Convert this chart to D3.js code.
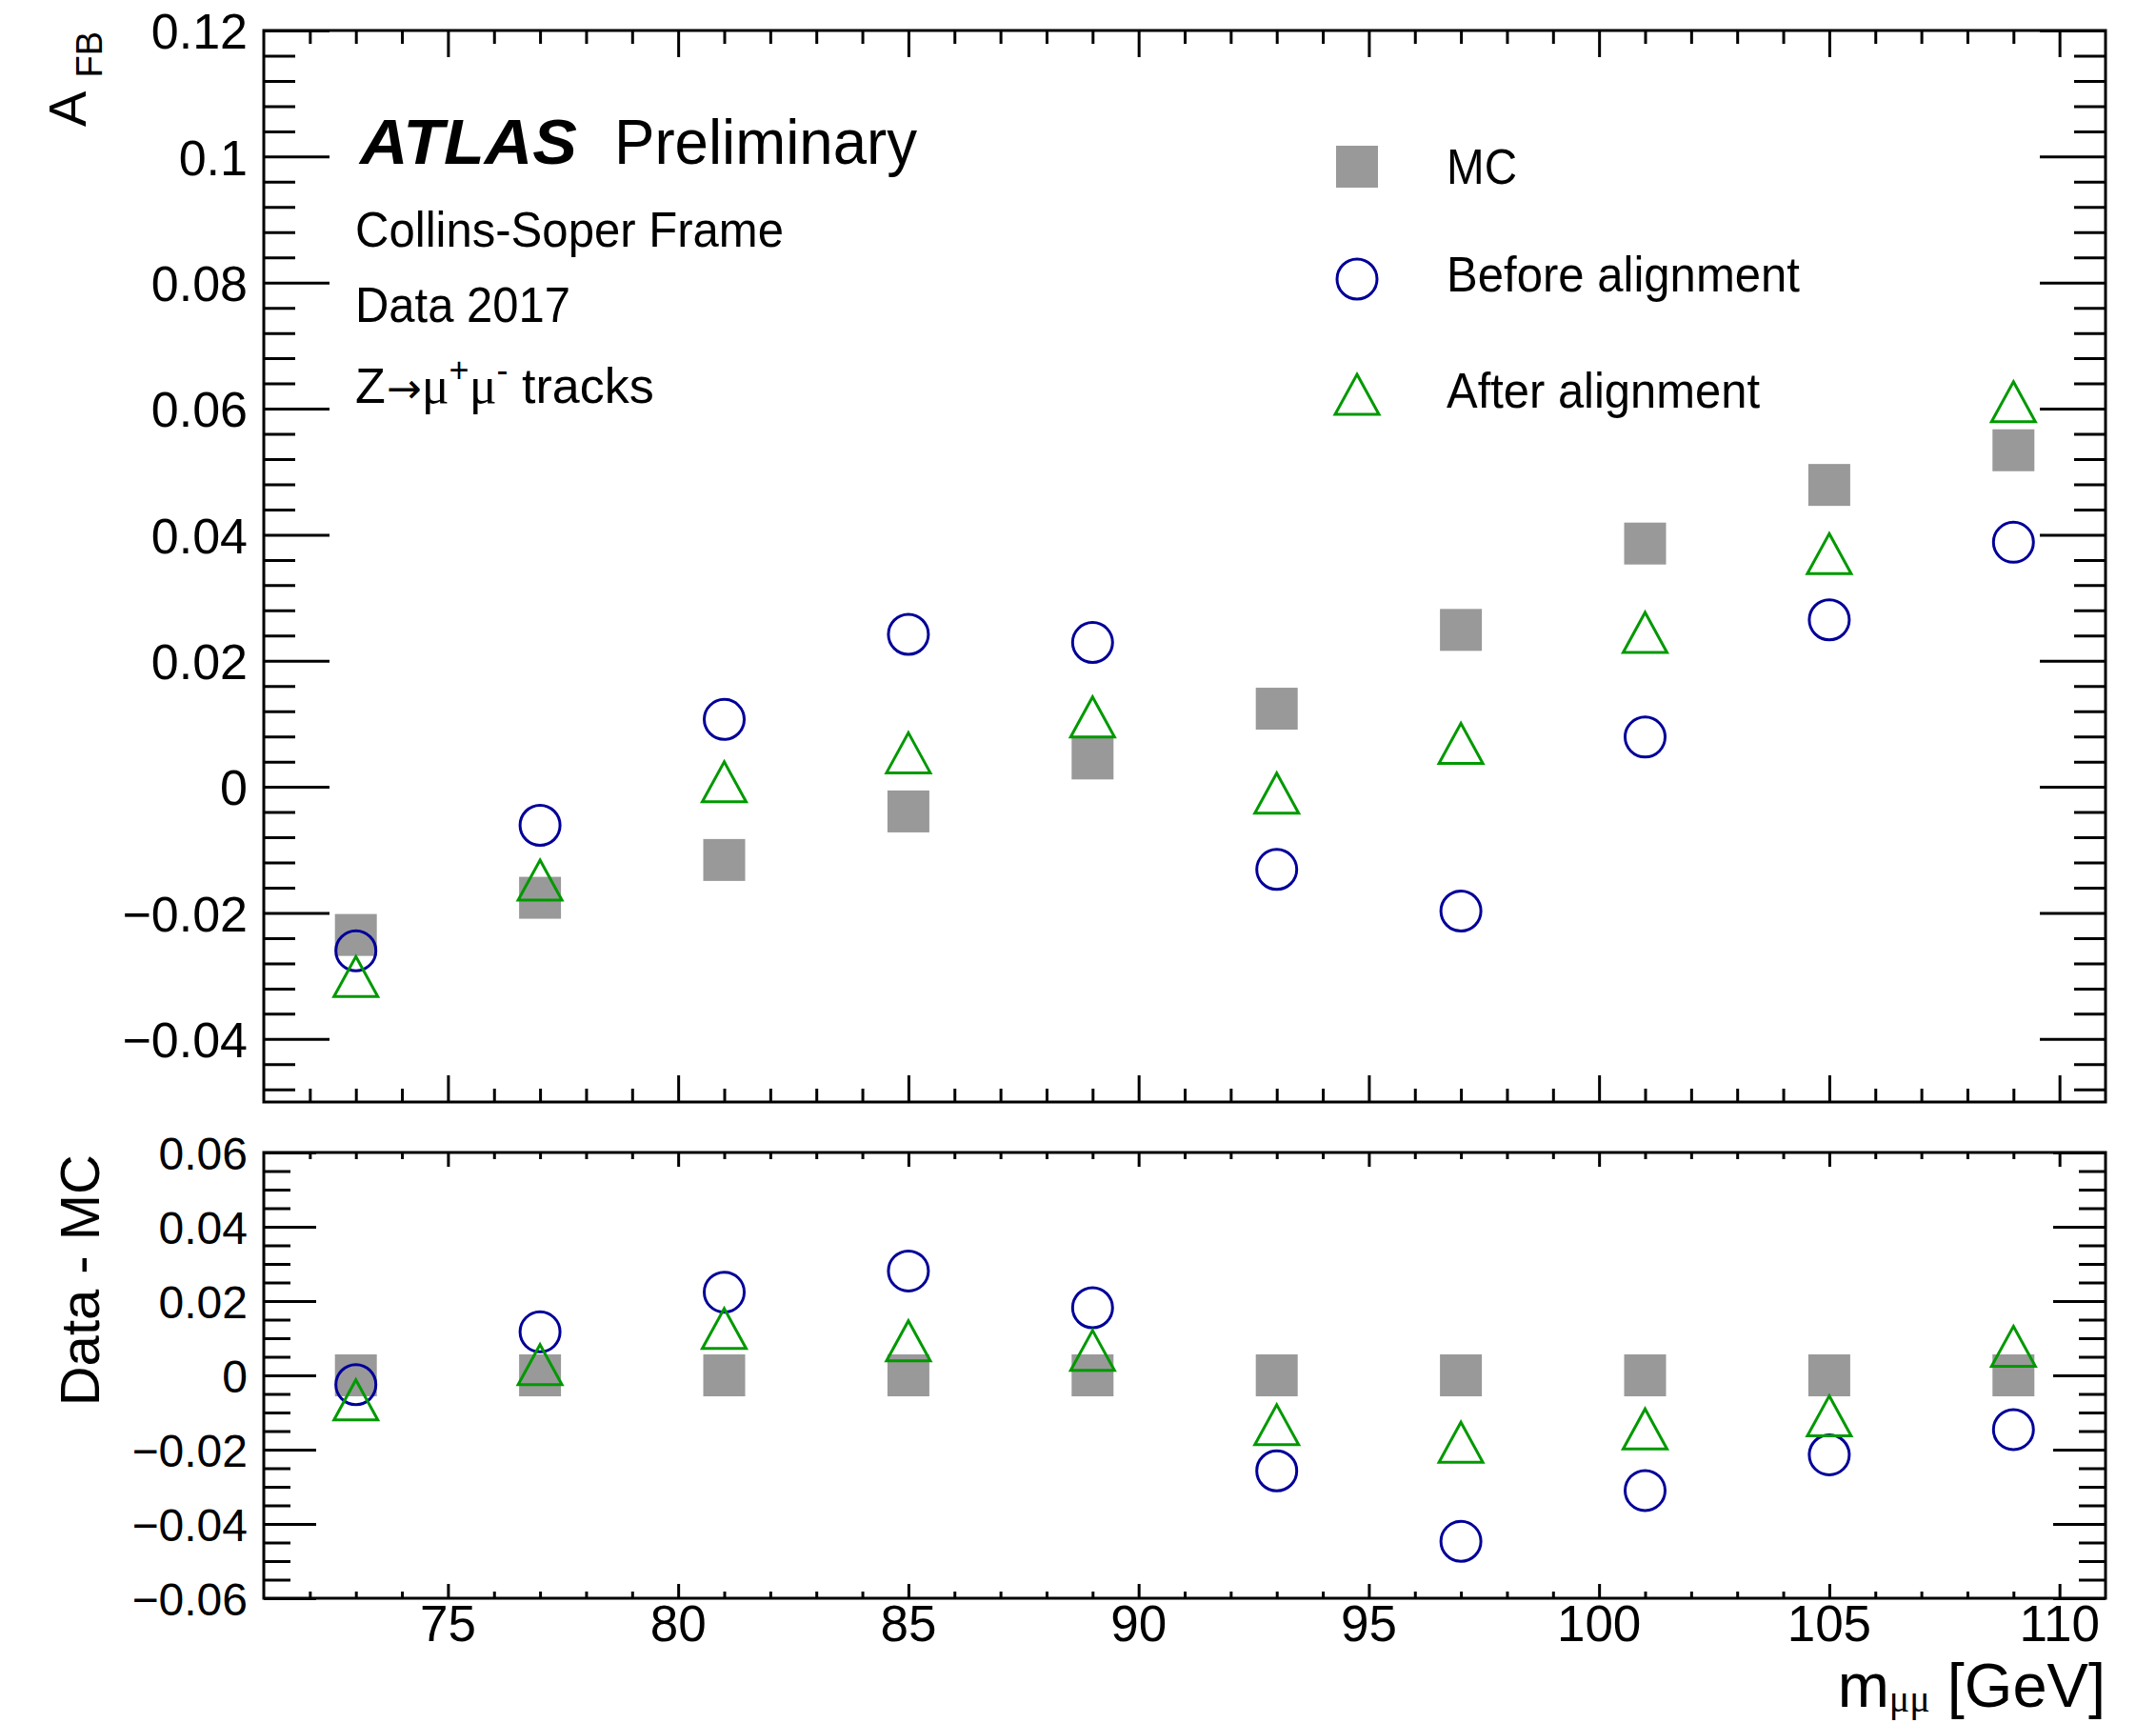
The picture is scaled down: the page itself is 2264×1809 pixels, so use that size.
<!DOCTYPE html>
<html>
<head>
<meta charset="utf-8">
<script src="https://cdn.jsdelivr.net/npm/d3@7"></script>
<style>
  html, body { margin: 0; padding: 0; background: #fff; }
  svg { display: block; }
  text { font-family: "Liberation Sans", Arial, Helvetica, sans-serif; fill: #000; }
</style>
</head>
<body>
<svg id="chart" width="2264" height="1809"></svg>
<script>
// ---------------- DATA ----------------
const massBins   = [73, 77, 81, 85, 89, 93, 97, 101, 105, 109];
const afbMC      = [-0.0235, -0.0176, -0.0116, -0.0039, 0.0045, 0.0124, 0.0249, 0.0386, 0.0479, 0.0534];
const afbBefore  = [-0.0260, -0.0061, 0.0107, 0.0242, 0.0229, -0.0131, -0.0197, 0.0079, 0.0265, 0.0388];
const afbAfter   = [-0.0301, -0.0148, 0.0008, 0.0054, 0.0111, -0.0010, 0.0069, 0.0245, 0.0370, 0.0611];
const diffMC     = [0, 0, 0, 0, 0, 0, 0, 0, 0, 0];
const diffBefore = [-0.0025, 0.0117, 0.0224, 0.0281, 0.0182, -0.0257, -0.0447, -0.0310, -0.0214, -0.0146];
const diffAfter  = [-0.0066, 0.0029, 0.0126, 0.0093, 0.0067, -0.0133, -0.0180, -0.0144, -0.0109, 0.0078];

const xMajorTicks = [75, 80, 85, 90, 95, 100, 105, 110];
const xMinorTicks = [72, 73, 74, 76, 77, 78, 79, 81, 82, 83, 84, 86, 87, 88, 89, 91, 92, 93, 94,
                     96, 97, 98, 99, 101, 102, 103, 104, 106, 107, 108, 109];
const upperYTicks = [-0.04, -0.02, 0, 0.02, 0.04, 0.06, 0.08, 0.1, 0.12];
const upperYMinor = [-0.048, -0.044, -0.036, -0.032, -0.028, -0.024, -0.016, -0.012, -0.008, -0.004,
                     0.004, 0.008, 0.012, 0.016, 0.024, 0.028, 0.032, 0.036, 0.044, 0.048, 0.052, 0.056,
                     0.064, 0.068, 0.072, 0.076, 0.084, 0.088, 0.092, 0.096, 0.104, 0.108, 0.112, 0.116];
const lowerYTicks = [-0.06, -0.04, -0.02, 0, 0.02, 0.04, 0.06];
const lowerYMinor = [-0.055, -0.05, -0.045, -0.035, -0.03, -0.025, -0.015, -0.01, -0.005,
                     0.005, 0.01, 0.015, 0.025, 0.03, 0.035, 0.045, 0.05, 0.055];

const seriesNames = ["MC", "Before alignment", "After alignment"];
const colMC = "#999999", colBefore = "#000099", colAfter = "#009900";

// ---------------- LAYOUT ----------------
const L = 277, R = 2211;
const upTop = 32, upBot = 1157;
const loTop = 1210, loBot = 1678;

const x   = d3.scaleLinear().domain([71, 111]).range([L, R]);
const yUp = d3.scaleLinear().domain([-0.05, 0.12]).range([upBot, upTop]);
const yLo = d3.scaleLinear().domain([-0.06, 0.06]).range([loBot, loTop]);

const svg = d3.select("#chart");
const fmt = d3.format("~g");

function styleAxis(g) {
  g.select(".domain").remove();
  g.selectAll(".tick line").attr("stroke", "#000").attr("stroke-width", 3);
  g.selectAll("text").attr("font-family", "Liberation Sans, Arial, sans-serif").attr("fill", "#000");
}
function noLabels(g) {
  styleAxis(g);
  g.selectAll(".tick text").remove();
}

function panel(yScale, top, bot, yMaj, yMin, xMajLen, xMinLen, yMajLen, yMinLen, yFont) {
  const g = svg.append("g");
  // x ticks bottom & top
  g.append("g").attr("transform", `translate(0,${bot})`)
    .call(d3.axisBottom(x).tickValues(xMajorTicks).tickSize(-xMajLen)).call(noLabels);
  g.append("g").attr("transform", `translate(0,${bot})`)
    .call(d3.axisBottom(x).tickValues(xMinorTicks).tickSize(-xMinLen)).call(noLabels);
  g.append("g").attr("transform", `translate(0,${top})`)
    .call(d3.axisTop(x).tickValues(xMajorTicks).tickSize(-xMajLen)).call(noLabels);
  g.append("g").attr("transform", `translate(0,${top})`)
    .call(d3.axisTop(x).tickValues(xMinorTicks).tickSize(-xMinLen)).call(noLabels);
  // y ticks left & right
  const yl = g.append("g").attr("transform", `translate(${L},0)`)
    .call(d3.axisLeft(yScale).tickValues(yMaj).tickSize(-yMajLen).tickPadding(17).tickFormat(fmt))
    .call(styleAxis);
  yl.selectAll("text").attr("font-size", yFont).attr("dy", "0.36em");
  g.append("g").attr("transform", `translate(${L},0)`)
    .call(d3.axisLeft(yScale).tickValues(yMin).tickSize(-yMinLen)).call(noLabels);
  g.append("g").attr("transform", `translate(${R},0)`)
    .call(d3.axisRight(yScale).tickValues(yMaj).tickSize(-yMajLen)).call(noLabels);
  g.append("g").attr("transform", `translate(${R},0)`)
    .call(d3.axisRight(yScale).tickValues(yMin).tickSize(-yMinLen)).call(noLabels);
  // frame
  g.append("rect").attr("x", L).attr("y", top).attr("width", R - L).attr("height", bot - top)
    .attr("fill", "none").attr("stroke", "#000").attr("stroke-width", 3);
  return g;
}

panel(yUp, upTop, upBot, upperYTicks, upperYMinor, 28, 14, 69, 33, 52);
panel(yLo, loTop, loBot, lowerYTicks, lowerYMinor, 15, 7, 55, 28, 48);

// x tick labels under lower panel
svg.append("g").selectAll("text").data(xMajorTicks).join("text")
  .attr("x", d => x(d)).attr("y", 1723)
  .attr("text-anchor", "middle").attr("font-size", 53)
  .text(d => d);

// ---------------- MARKERS ----------------
const triPath = "M0,-21 L23,21 L-23,21 Z";
function drawMarkers(g, yScale, mc, before, after) {
  g.selectAll("rect.mc").data(massBins).join("rect").attr("class", "mc")
    .attr("x", (d) => x(d) - 22).attr("y", (d, i) => yScale(mc[i]) - 22)
    .attr("width", 44).attr("height", 44).attr("fill", colMC);
  g.selectAll("circle.before").data(massBins).join("circle").attr("class", "before")
    .attr("cx", d => x(d)).attr("cy", (d, i) => yScale(before[i])).attr("r", 21)
    .attr("fill", "none").attr("stroke", colBefore).attr("stroke-width", 3);
  g.selectAll("path.after").data(massBins).join("path").attr("class", "after")
    .attr("transform", (d, i) => `translate(${x(d)},${yScale(after[i])})`)
    .attr("d", triPath).attr("fill", "none").attr("stroke", colAfter).attr("stroke-width", 3);
}
drawMarkers(svg.append("g"), yUp, afbMC, afbBefore, afbAfter);
drawMarkers(svg.append("g"), yLo, diffMC, diffBefore, diffAfter);

// ---------------- LEGEND ----------------
const legY = [175, 293, 414];
const legTextY = [193, 306, 428];
const legX = 1425, legTextX = 1519;
const legWidths = [74, 371, 329];
const leg = svg.append("g");
leg.append("rect").attr("x", legX - 22).attr("y", legY[0] - 22).attr("width", 44).attr("height", 44).attr("fill", colMC);
leg.append("circle").attr("cx", legX).attr("cy", legY[1]).attr("r", 21)
  .attr("fill", "none").attr("stroke", colBefore).attr("stroke-width", 3);
leg.append("path").attr("transform", `translate(${legX},${legY[2]})`).attr("d", triPath)
  .attr("fill", "none").attr("stroke", colAfter).attr("stroke-width", 3);
leg.selectAll("text").data(seriesNames).join("text")
  .attr("x", legTextX).attr("y", (d, i) => legTextY[i])
  .attr("font-size", 52)
  .attr("textLength", (d, i) => legWidths[i]).attr("lengthAdjust", "spacingAndGlyphs")
  .text(d => d);

// ---------------- LABELS ----------------
svg.append("text").attr("x", 378).attr("y", 172).attr("font-size", 67)
  .attr("font-weight", "bold").attr("font-style", "italic")
  .attr("textLength", 228).attr("lengthAdjust", "spacingAndGlyphs").text("ATLAS");
svg.append("text").attr("x", 645).attr("y", 172).attr("font-size", 67)
  .attr("textLength", 318).attr("lengthAdjust", "spacingAndGlyphs").text("Preliminary");
svg.append("text").attr("x", 373).attr("y", 259).attr("font-size", 52)
  .attr("textLength", 450).attr("lengthAdjust", "spacingAndGlyphs").text("Collins-Soper Frame");
svg.append("text").attr("x", 373).attr("y", 338).attr("font-size", 52)
  .attr("textLength", 226).attr("lengthAdjust", "spacingAndGlyphs").text("Data 2017");

const zt = svg.append("text").attr("x", 373).attr("y", 423).attr("font-size", 52);
zt.append("tspan").text("Z");
zt.append("tspan").attr("font-family", "DejaVu Sans").attr("font-size", 44).attr("dx", 1).text("→");
zt.append("tspan").attr("font-family", "Liberation Serif").attr("font-size", 54).text("μ");
zt.append("tspan").attr("font-size", 36).attr("dy", -22).text("+");
zt.append("tspan").attr("font-family", "Liberation Serif").attr("font-size", 54).attr("dy", 22).text("μ");
zt.append("tspan").attr("font-size", 36).attr("dy", -22).text("-");
zt.append("tspan").attr("dy", 22).text(" tracks");

// y axis titles
const afb = svg.append("text").attr("transform", "translate(90,33) rotate(-90)")
  .attr("text-anchor", "end").attr("font-size", 56);
afb.append("tspan").text("A");
afb.append("tspan").attr("font-size", 38).attr("dx", 14).attr("dy", 17).text("FB");

svg.append("text").attr("transform", "translate(104,1212) rotate(-90)")
  .attr("text-anchor", "end").attr("font-size", 58).text("Data - MC");

// x axis title
const xt = svg.append("text").attr("x", R).attr("y", 1792).attr("text-anchor", "end").attr("font-size", 65);
xt.append("tspan").text("m");
xt.append("tspan").attr("font-family", "Liberation Serif").attr("font-size", 40).attr("dy", 5).text("μμ");
xt.append("tspan").attr("dy", -5).text(" [GeV]");
</script>
</body>
</html>
